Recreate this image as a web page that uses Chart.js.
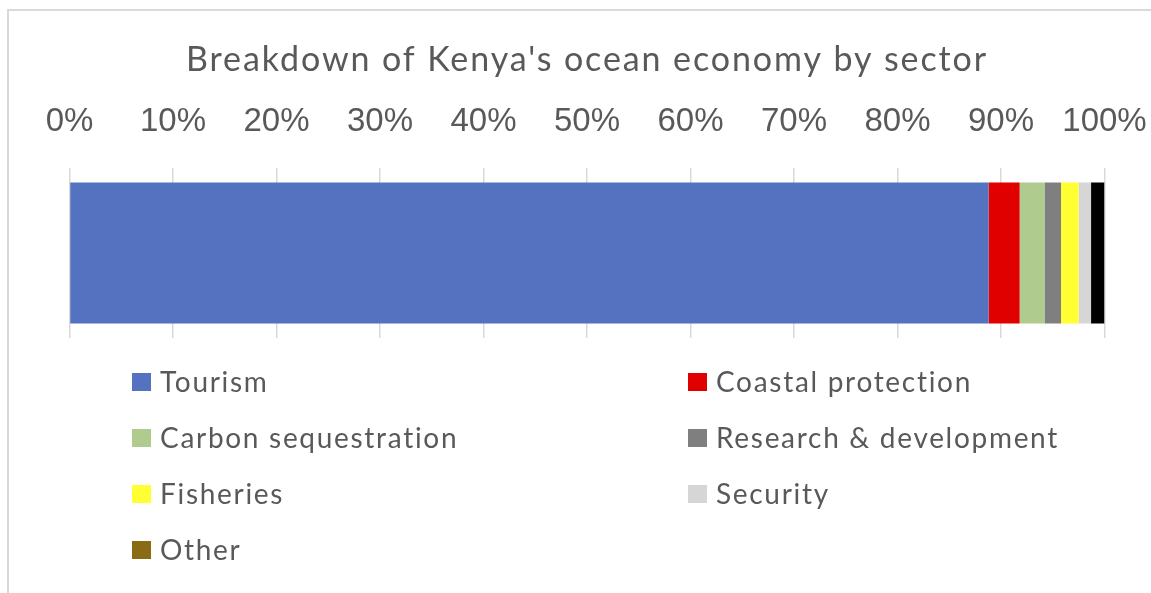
<!DOCTYPE html>
<html><head><meta charset="utf-8">
<script src="https://cdn.jsdelivr.net/npm/chart.js@4.4.0/dist/chart.umd.min.js"></script>
<style>
html,body{margin:0;padding:0;background:#fff;overflow:hidden;}
#wrap{position:relative;width:1151px;height:593px;}
#frame{position:absolute;left:7px;top:9px;width:1160px;height:600px;border-left:2px solid #d9d9d9;border-top:2px solid #d9d9d9;pointer-events:none;}
canvas{position:absolute;left:0;top:0;}
</style></head><body>
<div id="wrap"><canvas id="c" width="1151" height="593" style="width:1151px;height:593px"></canvas><div id="frame"></div></div>
<script>
const categories = [''];
const sectors = ['Tourism','Coastal protection','Carbon sequestration','Research & development','Fisheries','Security','Other'];
const shares = [88.8, 3.0, 2.4, 1.6, 1.7, 1.2, 1.3];
const barColors = ['#5572c0','#e00000','#afcc8e','#7f7f7f','#ffff33','#d6d6d6','#000000'];
const legendColors = ['#5572c0','#e00000','#afcc8e','#7f7f7f','#ffff33','#d6d6d6','#8a6a14'];
const tickMin = 0, tickMax = 100, tickStep = 10;
const titleText = "Breakdown of Kenya's ocean economy by sector";

// letter spacing for the title only (title is drawn before the datasets, tick labels after)
const titleSpacing = {
  id: 'titleSpacing',
  beforeDraw(chart) { chart.ctx.letterSpacing = '1.9px'; },
  beforeDatasetsDraw(chart) { chart.ctx.letterSpacing = '0px'; }
};

const gridLegend = {
  id: 'gridLegend',
  afterDraw(chart) {
    const ctx = chart.ctx;
    ctx.save();
    ctx.font = '28px Lato';
    ctx.letterSpacing = '1.7px';
    ctx.textBaseline = 'middle';
    ctx.textAlign = 'left';
    chart.data.datasets.forEach((ds, i) => {
      const col = i % 2, row = Math.floor(i / 2);
      const bx = col === 0 ? 132 : 688;
      const cy = 382 + row * 56;
      ctx.fillStyle = ds.legendColor;
      ctx.fillRect(bx, cy - 9, 19, 18);
      ctx.fillStyle = '#595959';
      ctx.fillText(ds.label, bx + 28, cy + 1);
    });
    ctx.restore();
  }
};

new Chart(document.getElementById('c'), {
  type: 'bar',
  data: {
    labels: categories,
    datasets: sectors.map((s, i) => ({
      label: s,
      data: [shares[i]],
      backgroundColor: barColors[i],
      legendColor: legendColors[i],
      borderWidth: 0,
      categoryPercentage: 1,
      barPercentage: 0.83
    }))
  },
  options: {
    indexAxis: 'y',
    responsive: false,
    animation: false,
    devicePixelRatio: 1,
    layout: { padding: { left: 69.5, right: 46.5, top: 0, bottom: 255 } },
    plugins: {
      legend: { display: false },
      tooltip: { enabled: false },
      title: {
        display: true,
        text: titleText,
        color: '#595959',
        font: { family: 'Lato', size: 34, weight: 'normal' },
        padding: { top: 40, bottom: 0 }
      }
    },
    scales: {
      x: {
        position: 'top',
        stacked: true,
        min: tickMin, max: tickMax,
        afterFit(scale) { scale.height = 87.2; scale.paddingLeft = 0; scale.paddingRight = 0; },
        ticks: {
          stepSize: tickStep,
          padding: 26.6,
          z: 1,
          color: '#595959',
          font: { family: 'Liberation Sans', size: 33 },
          callback: v => v + '%'
        },
        grid: { color: '#d9d9d9', lineWidth: 1.5, drawTicks: false },
        border: { display: false }
      },
      y: {
        stacked: true,
        display: false
      }
    }
  },
  plugins: [titleSpacing, gridLegend]
});
</script>
</body></html>
